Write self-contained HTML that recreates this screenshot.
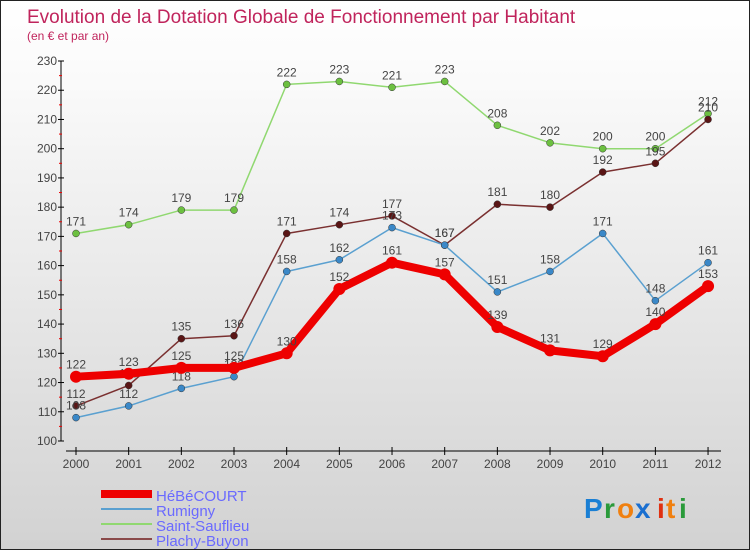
<!DOCTYPE html>
<html><head><meta charset="utf-8"><style>
body{margin:0}
#wrap{position:relative;width:748px;height:548px;border:1px solid #222;background:linear-gradient(#fff,#fafafa 15%,#d2d2d2);font-family:"Liberation Sans",sans-serif;overflow:hidden}
</style></head><body>
<div id="wrap">
<svg id="svg" width="748" height="548">
<text x="26" y="22" font-size="19" fill="#c0245c">Evolution de la Dotation Globale de Fonctionnement par Habitant</text>
<text x="26" y="39" font-size="12" fill="#c0245c">(en € et par an)</text>
<g id="g"></g>
<g font-size="28" font-weight="bold">
<text x="583" y="517" fill="#1a7fd4">P</text><text x="603" y="517" fill="#2a9a3a">r</text><text x="616" y="517" fill="#f08010">o</text><text x="634" y="517" fill="#1a6fd0">x</text><text x="656" y="517" fill="#e03010">i</text><text x="665" y="517" fill="#f08010">t</text><text x="678" y="517" fill="#2a9a3a">i</text>
</g>
</svg></div>
<script>
const years=["2000","2001","2002","2003","2004","2005","2006","2007","2008","2009","2010","2011","2012"];
const hebecourt=[122,123,125,125,130,152,161,157,139,131,129,140,153];
const rumigny=[108,112,118,122,158,162,173,167,151,158,171,148,161];
const saintSauflieu=[171,174,179,179,222,223,221,223,208,202,200,200,212];
const plachyBuyon=[112,119,135,136,171,174,177,167,181,180,192,195,210];
const yTicks=[100,110,120,130,140,150,160,170,180,190,200,210,220,230];
const NS="http://www.w3.org/2000/svg",g=document.getElementById('g');
const X=i=>75+i*52.67, Y=v=>440-(v-100)*380/130;
function mk(t,a,p){const e=document.createElementNS(NS,t);for(const k in a)e.setAttribute(k,a[k]);(p||g).appendChild(e);return e;}
let ax=mk('line',{x1:60,y1:60,x2:60,y2:440,stroke:'#000'});


yTicks.forEach(v=>{mk('line',{x1:57,x2:63,y1:Y(v),y2:Y(v),stroke:'#000'});
if(v<230)mk('line',{x1:58,x2:61,y1:Y(v+5),y2:Y(v+5),stroke:'#e00'});
const t=mk('text',{x:56,y:Y(v)+4,'text-anchor':'end','font-size':12,fill:'#444'});t.textContent=v;

});
let xa=mk('line',{x1:65,y1:450,x2:720,y2:450,stroke:'#000'});


years.forEach((y,i)=>{mk('line',{x1:X(i),x2:X(i),y1:446,y2:454,stroke:'#000'});
const t=mk('text',{x:X(i),y:467,'text-anchor':'middle','font-size':12,fill:'#444'});t.textContent=y;

});
const series=[[saintSauflieu,'#90d870','#6cc040',1.5,'saint-sauflieu'],[plachyBuyon,'#7a3030','#5a1515',1.5,'plachy-buyon'],[rumigny,'#5aa0d0','#3a88c8',1.5,'rumigny'],[hebecourt,'#ee0000','#ee0000',8,'hebecourt']];
series.forEach(([d,c,pc,w,n])=>{
const p=mk('polyline',{points:d.map((v,i)=>X(i)+','+Y(v)).join(' '),fill:'none',stroke:c,'stroke-width':w,'stroke-linejoin':'round'});


d.forEach((v,i)=>{const c2=mk('circle',{cx:X(i),cy:Y(v),r:w>2?6:3.5,fill:pc,stroke:w>2?'none':'#333','stroke-width':0.5});


const t=mk('text',{x:X(i),y:Y(v)-8,'text-anchor':'middle','font-size':12,fill:'#444'});t.textContent=v;

});
});
const leg=[['HéBéCOURT','#ee0000',8],['Rumigny','#5aa0d0',2],['Saint-Sauflieu','#90d870',2],['Plachy-Buyon','#8a4a4a',2]];
leg.forEach(([n,c,w],i)=>{const y=493+i*15;
const l=mk('line',{x1:100,x2:151,y1:y,y2:y,stroke:c,'stroke-width':w});


const t=mk('text',{x:155,y:y+7,'font-size':15,fill:'#6a6aff'});t.textContent=n;

});
</script></body></html>
